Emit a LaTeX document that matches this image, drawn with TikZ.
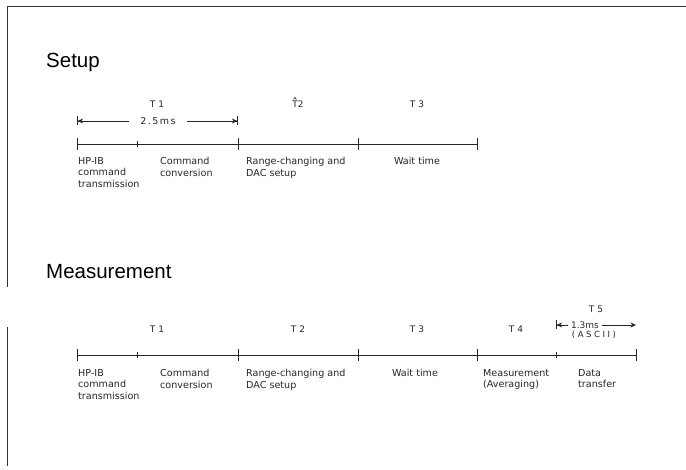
\documentclass[tikz,border=0pt]{standalone}
\usepackage{fontspec}
\setmainfont{Liberation Sans}
\newfontfamily\smallfont{DejaVu Sans}
\usetikzlibrary{arrows.meta}
\begin{document}
\begin{tikzpicture}[x=1pt,y=-1pt,
  frame/.style={line width=0.9pt, draw=black!80},
  axis/.style={line width=0.8pt, draw=black!85},
  lbl/.style={font=\smallfont\fontsize{9.6}{11.5}\selectfont, align=left, anchor=north west, inner sep=0pt, text=black!85},
  tlbl/.style={font=\smallfont\fontsize{9}{10}\selectfont, anchor=base, inner sep=0pt, text=black!85},
  title/.style={font=\fontsize{20.5}{23}\selectfont, anchor=base west, inner sep=0pt},
  dimtext/.style={inner ysep=0pt, text=black!85},
  dimbar/.style={line width=0.6pt, draw=black!85, -{Stealth[length=5.5pt,width=5pt,sep=0pt]Bar[width=9pt]}},
  dimhead/.style={line width=0.6pt, draw=black!85, -{Stealth[length=5.5pt,width=5pt]}},
  hatmark/.style={line width=0.6pt, draw=black!85, line cap=round, line join=round},
]
\useasboundingbox (0,0) rectangle (686,470);

% frame
\coordinate (ftr) at (686,6);
\coordinate (ftl) at (7,6);
\coordinate (fa) at (7,287);
\coordinate (fb) at (7,327);
\coordinate (fc) at (7,466);
\draw[frame] (ftr) -- (ftl) -- (fa);
\draw[frame] (fb) -- (fc);

% titles
\node[title] (setup) at (46,68) {Setup};
\node[title] (meas) at (46,279) {Measurement};

% ---------------- Setup timeline
\foreach \x/\n in {77/a,137/b,238/c,358/d,477/e} \coordinate (s\n) at (\x,144);
\draw[axis] (sa) -- (se);
\foreach \n in {a,c,d,e} \draw[axis] ([yshift=-6pt]s\n) -- ([yshift=6pt]s\n);
\draw[axis] ([yshift=-3pt]sb) -- ([yshift=3pt]sb);

\node[tlbl] (sT1) at (157,108) {T 1};
\node[tlbl] (sT2) at (298,108) {T2};
\draw[hatmark] ([shift={(1.4,-8.6)}]sT2.base west) -- ++(1.35,-2) -- ++(1.35,2);
\node[tlbl] (sT3) at (417,108) {T 3};

\coordinate (sdl) at (77,121);
\coordinate (sdr) at (238,121);
\node[dimtext, inner xsep=11pt, font=\smallfont\fontsize{9.5}{11}\selectfont\addfontfeature{LetterSpace=15}] (sdim) at (158,121) {2.5ms};
\draw[dimbar] (sdim) -- (sdl);
\draw[dimbar] (sdim) -- (sdr);

\node[lbl] (sL1) at (78,157.2) {HP-IB\\command\\transmission};
\node[lbl] (sL2) at (160,157.2) {Command\\conversion};
\node[lbl] (sL3) at (246,157.2) {Range-changing and\\DAC setup};
\node[lbl, anchor=north] (sL4) at (417,157.2) {Wait time};

% ---------------- Measurement timeline
\foreach \x/\n in {77/a,137/b,238/c,358/d,477/e,556/f,636/g} \coordinate (m\n) at (\x,355);
\draw[axis] (ma) -- (mg);
\foreach \n in {a,c,d,e,g} \draw[axis] ([yshift=-6pt]m\n) -- ([yshift=6pt]m\n);
\draw[axis] ([yshift=-3pt]mb) -- ([yshift=3pt]mb);
\draw[axis] ([yshift=-3pt]mf) -- ([yshift=3pt]mf);

\node[tlbl] (mT1) at (157,333) {T 1};
\node[tlbl] (mT2) at (298,333) {T 2};
\node[tlbl] (mT3) at (417,333) {T 3};
\node[tlbl] (mT4) at (516,333) {T 4};
\node[tlbl] (mT5) at (596,313) {T 5};

\coordinate (mdl) at (556,325);
\coordinate (mdr) at (636,325);
\node[dimtext, inner xsep=2.5pt, font=\smallfont\fontsize{9}{10}\selectfont] (mdim) at (585,325) {1.3ms};
\draw[dimbar] (mdim) -- (mdl);
\draw[dimhead] (mdim) -- (mdr);
\node[tlbl, font=\smallfont\fontsize{8.5}{10}\selectfont\addfontfeature{LetterSpace=30}] (ascii) at (594,337.5) {(ASCII)};

\node[lbl] (mL1) at (78,369.2) {HP-IB\\command\\transmission};
\node[lbl] (mL2) at (160,369.2) {Command\\conversion};
\node[lbl] (mL3) at (246,369.2) {Range-changing and\\DAC setup};
\node[lbl, anchor=north] (mL4) at (415,369.2) {Wait time};
\node[lbl] (mL5) at (483,369.2) {Measurement\\(Averaging)};
\node[lbl] (mL6) at (578,369.2) {Data\\transfer};
\end{tikzpicture}
\end{document}
